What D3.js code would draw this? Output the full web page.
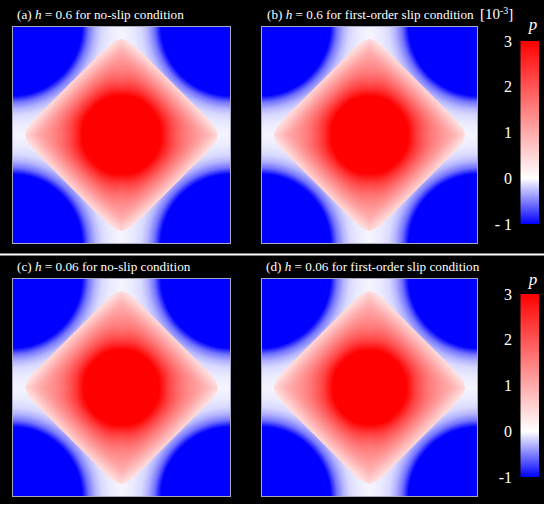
<!DOCTYPE html>
<html><head><meta charset="utf-8">
<script src="https://cdn.jsdelivr.net/npm/d3@7"></script>
<style>html,body{margin:0;padding:0;background:#fff;} svg{display:block;}</style>
</head><body><svg id="chart" width="550" height="509"></svg>
<script>
// ---- data ----
const panelLabels = ["(a)", "(b)", "(c)", "(d)"];
const panelH = ["0.6", "0.6", "0.06", "0.06"];
const panelCond = ["no-slip condition", "first-order slip condition", "no-slip condition", "first-order slip condition"];
const colorDomain = [-1, 0, 3];
const colorRange = ["#0000ff", "#ffffff", "#ff0000"];
const colorTicks = [3, 2, 1, 0, -1];
const colorTickLabelsTop = ["3", "2", "1", "0", "- 1"];
const colorTickLabelsBottom = ["3", "2", "1", "0", "-1"];
// pressure profile inside the raised diamond (blended radius -> p)
const innerRadius = [0, 0.30, 0.36, 0.42, 0.50, 0.58, 0.64, 0.70, 0.76];
const innerP_a = [6.0, 3.6, 3.0, 2.4, 1.7, 1.1, 0.65, 0.3, 0.1];
const innerP_b = [5.9, 3.55, 2.95, 2.35, 1.67, 1.08, 0.64, 0.3, 0.1];
const innerP_c = [5.6, 3.4, 2.85, 2.25, 1.6, 1.05, 0.62, 0.3, 0.1];
const innerP_d = [5.5, 3.35, 2.8, 2.2, 1.58, 1.03, 0.62, 0.3, 0.1];
// pressure profile outside the diamond (distance to nearest corner -> p)
const outerRadius = [0, 0.60, 0.64, 0.70, 0.76, 0.82, 0.90, 1.00, 1.50];
const outerP = [-3.0, -1.2, -1.0, -0.55, -0.3, -0.15, -0.08, -0.04, 0];

const innerProfiles = [innerP_a, innerP_b, innerP_c, innerP_d];

// ---- layout ----
const svg = d3.select("#chart");
const font = "'Liberation Serif','Times New Roman',serif";
const panels = [
  {x: 12, y: 26, w: 219, h: 218, tx: 17, ty: 19},
  {x: 261, y: 26, w: 217, h: 218, tx: 267, ty: 19},
  {x: 12, y: 278, w: 219, h: 219, tx: 17, ty: 271},
  {x: 261, y: 278, w: 217, h: 219, tx: 266, ty: 271}
];

svg.append("rect").attr("x", 0).attr("y", 0).attr("width", 544).attr("height", 504).attr("fill", "#000");
svg.append("rect").attr("x", 0).attr("y", 253.5).attr("width", 544).attr("height", 2).attr("fill", "#fff");

const color = d3.scaleLinear().domain(colorDomain).range(colorRange).clamp(true);

function smoothstep(a, b, x) {
  const t = Math.max(0, Math.min(1, (x - a) / (b - a)));
  return t * t * (3 - 2 * t);
}

const outerScale = d3.scaleLinear().domain(outerRadius).range(outerP).clamp(true);

panels.forEach((pn, i) => {
  const innerScale = d3.scaleLinear().domain(innerRadius).range(innerProfiles[i]).clamp(true);
  const xs = d3.scaleLinear().domain([0, pn.w]).range([-1, 1]);
  const ys = d3.scaleLinear().domain([0, pn.h]).range([-1, 1]);
  const cv = document.createElement("canvas");
  cv.width = pn.w; cv.height = pn.h;
  const ctx = cv.getContext("2d");
  const img = ctx.createImageData(pn.w, pn.h);
  const faceR = 0.665, n = 10;
  for (let py = 0; py < pn.h; py++) {
    for (let px = 0; px < pn.w; px++) {
      const u = xs(px + 0.5), v = ys(py + 0.5);
      const a = Math.abs(u + v) / Math.SQRT2, b = Math.abs(u - v) / Math.SQRT2;
      const sup = Math.pow(Math.pow(a, n) + Math.pow(b, n), 1 / n);
      let p;
      if (sup < faceR) {
        const r = Math.hypot(u, v);
        const D = (Math.abs(u) + Math.abs(v)) / Math.SQRT2;
        const w = 0.8 * smoothstep(0.25, 0.6, D);
        const rho = (1 - w) * r + w * D;
        p = innerScale(rho);
      } else {
        const rc = Math.hypot(1 - Math.abs(u), 1 - Math.abs(v));
        p = outerScale(rc);
      }
      const c = d3.rgb(color(p));
      const k = 4 * (py * pn.w + px);
      img.data[k] = c.r; img.data[k + 1] = c.g; img.data[k + 2] = c.b; img.data[k + 3] = 255;
    }
  }
  ctx.putImageData(img, 0, 0);
  svg.append("image").attr("x", pn.x).attr("y", pn.y).attr("width", pn.w).attr("height", pn.h)
    .attr("preserveAspectRatio", "none").attr("href", cv.toDataURL());
  svg.append("rect").attr("x", pn.x + 0.5).attr("y", pn.y + 0.5).attr("width", pn.w - 1).attr("height", pn.h - 1)
    .attr("fill", "none").attr("stroke", "#a8a8c0").attr("stroke-width", 1);

  const t = svg.append("text").attr("x", pn.tx).attr("y", pn.ty).attr("fill", "#fff")
    .attr("font-family", font).attr("font-size", 13.2);
  t.append("tspan").text(panelLabels[i] + " ");
  t.append("tspan").attr("font-style", "italic").text("h");
  t.append("tspan").text(" = " + panelH[i] + " for " + panelCond[i]);
});

// [10^-3]
const u10 = svg.append("text").attr("x", 480).attr("y", 19).attr("fill", "#fff")
  .attr("font-family", font).attr("font-size", 15);
u10.append("tspan").text("[10");
u10.append("tspan").attr("dy", -5).attr("font-size", 10).text("-3");
u10.append("tspan").attr("dy", 5).text("]");

// colorbars
const defs = svg.append("defs");
const grad = defs.append("linearGradient").attr("id", "cbgrad").attr("x1", 0).attr("y1", 1).attr("x2", 0).attr("y2", 0);
d3.range(0, 41).forEach(j => {
  const val = -1 + j * 0.1;
  grad.append("stop").attr("offset", (val + 1) / 4).attr("stop-color", color(val));
});

const bars = [
  {top: 41, bottom: 224, labels: colorTickLabelsTop, py: 30},
  {top: 294, bottom: 477, labels: colorTickLabelsBottom, py: 285}
];
bars.forEach(bc => {
  const y = d3.scaleLinear().domain([-1, 3]).range([bc.bottom, bc.top]);
  svg.append("rect").attr("x", 520.5).attr("y", bc.top).attr("width", 18.5).attr("height", bc.bottom - bc.top)
    .attr("fill", "url(#cbgrad)");
  colorTicks.forEach((tv, j) => {
    svg.append("text").attr("x", 512).attr("y", y(tv)).attr("dy", "0.35em")
      .attr("text-anchor", "end").attr("fill", "#fff").attr("font-family", font).attr("font-size", 16)
      .text(bc.labels[j]);
  });
  svg.append("text").attr("x", 533).attr("y", bc.py).attr("text-anchor", "middle").attr("fill", "#fff")
    .attr("font-family", font).attr("font-size", 17).attr("font-style", "italic").text("p");
});
</script>
</body></html>
